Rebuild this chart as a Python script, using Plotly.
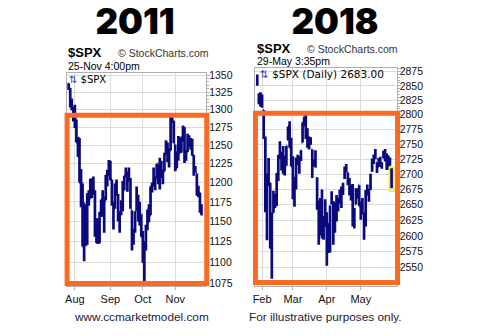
import numpy as np
import pandas as pd
import plotly.graph_objects as go

# ---------------- data ----------------
# 2011: daily S&P 500 bars, 26-Jul .. 25-Nov
days_2011 = pd.bdate_range("2011-07-26", "2011-11-25")
days_2011 = [d for d in days_2011 if d.strftime("%Y-%m-%d") not in ("2011-09-05", "2011-11-24")]

open_2011 = [1337, 1331, 1305, 1296,
             1293, 1286, 1254, 1260, 1200, 1199, 1121, 1171, 1121, 1173, 1179, 1204, 1193, 1190, 1140, 1124,
             1124, 1162, 1177, 1159, 1177, 1209, 1213,
             1219, 1204, 1174, 1166, 1197, 1185, 1153, 1162, 1173, 1190, 1209, 1214, 1204, 1203, 1164, 1128,
             1137, 1164, 1176, 1152, 1159,
             1131, 1097, 1124, 1144, 1166, 1158, 1194, 1196, 1206, 1206, 1224, 1200, 1223, 1208, 1215, 1238,
             1253, 1230, 1243, 1284, 1284,
             1251, 1219, 1238, 1260, 1253, 1262, 1275, 1230, 1241, 1263, 1251, 1257, 1236, 1217, 1212, 1192,
             1187, 1162]
high_2011 = [1338, 1331, 1316, 1304,
             1307, 1286, 1261, 1260, 1218, 1199, 1172, 1171, 1186, 1190, 1205, 1204, 1208, 1190, 1154, 1154,
             1162, 1178, 1190, 1182, 1210, 1217, 1230,
             1229, 1204, 1174, 1199, 1204, 1185, 1163, 1177, 1202, 1209, 1220, 1214, 1220, 1206, 1164, 1141,
             1163, 1195, 1184, 1175, 1159,
             1138, 1125, 1146, 1165, 1172, 1195, 1200, 1220, 1208, 1225, 1224, 1233, 1229, 1217, 1240, 1257,
             1254, 1246, 1293, 1293, 1284,
             1251, 1242, 1263, 1260, 1262, 1277, 1275, 1244, 1266, 1264, 1260, 1259, 1237, 1222, 1212, 1196,
             1187, 1172]
low_2011 = [1328, 1303, 1299, 1283,
            1274, 1254, 1234, 1200, 1168, 1119, 1101, 1120, 1121, 1170, 1179, 1180, 1184, 1131, 1123, 1122,
            1123, 1156, 1156, 1136, 1177, 1195, 1209,
            1203, 1170, 1140, 1166, 1183, 1150, 1136, 1158, 1163, 1190, 1207, 1188, 1201, 1166, 1114, 1121,
            1136, 1164, 1150, 1145, 1131,
            1099, 1075, 1114, 1139, 1149, 1158, 1187, 1196, 1190, 1206, 1198, 1191, 1206, 1198, 1215, 1238,
            1227, 1220, 1243, 1281, 1253,
            1215, 1219, 1229, 1239, 1240, 1255, 1226, 1229, 1241, 1248, 1244, 1236, 1209, 1213, 1183, 1181,
            1161, 1158]
close_2011 = [1332, 1305, 1301, 1292,
              1287, 1254, 1260, 1200, 1199, 1119, 1173, 1121, 1173, 1179, 1204, 1193, 1194, 1141, 1124, 1124,
              1162, 1178, 1159, 1177, 1210, 1213, 1219,
              1204, 1174, 1165, 1199, 1186, 1154, 1162, 1173, 1189, 1209, 1216, 1204, 1202, 1167, 1130, 1136,
              1163, 1175, 1151, 1160, 1131,
              1099, 1124, 1144, 1165, 1155, 1195, 1196, 1207, 1204, 1225, 1201, 1225, 1210, 1215, 1238, 1254,
              1229, 1242, 1285, 1285, 1253,
              1218, 1238, 1261, 1253, 1261, 1276, 1229, 1240, 1264, 1252, 1258, 1237, 1216, 1216, 1193, 1188,
              1162, 1159]

# 2018: daily S&P 500 bars, 29-Jan .. 29-May
days_2018 = pd.bdate_range("2018-01-29", "2018-05-29")
days_2018 = [d for d in days_2018 if d.strftime("%Y-%m-%d") not in ("2018-02-19", "2018-03-30", "2018-05-28")]

open_2018 = [2867, 2832, 2832,
             2816, 2808, 2741, 2614, 2690, 2686, 2601, 2637, 2646, 2652, 2714, 2727, 2723, 2720, 2711, 2715,
             2758, 2781, 2753,
             2715, 2658, 2681, 2731, 2711, 2731, 2753, 2790, 2795, 2775, 2754, 2750, 2741, 2716, 2715, 2691,
             2646, 2619, 2667, 2612, 2625,
             2633, 2597, 2585, 2658, 2645, 2617, 2638, 2643, 2654, 2675, 2670, 2697, 2711, 2702, 2691, 2675,
             2681, 2635, 2651, 2675, 2682,
             2643, 2654, 2628, 2621, 2678, 2670, 2678, 2706, 2722, 2738, 2719, 2713, 2718, 2718, 2735, 2738,
             2714, 2730, 2724, 2705]
high_2018 = [2870, 2837, 2839,
             2835, 2808, 2763, 2701, 2727, 2686, 2638, 2673, 2668, 2702, 2732, 2755, 2737, 2747, 2731, 2747,
             2780, 2789, 2761,
             2730, 2696, 2728, 2732, 2730, 2740, 2787, 2797, 2802, 2777, 2763, 2762, 2741, 2725, 2740, 2695,
             2657, 2661, 2675, 2632, 2659,
             2638, 2621, 2649, 2672, 2656, 2654, 2666, 2661, 2675, 2680, 2686, 2713, 2717, 2703, 2694, 2683,
             2684, 2645, 2677, 2677, 2682,
             2655, 2661, 2638, 2674, 2683, 2676, 2701, 2726, 2733, 2742, 2719, 2727, 2729, 2720, 2739, 2742,
             2734, 2731, 2728, 2710]
low_2018 = [2850, 2818, 2814,
            2812, 2759, 2638, 2593, 2681, 2580, 2533, 2637, 2645, 2648, 2689, 2725, 2706, 2701, 2698, 2714,
            2757, 2744, 2713,
            2659, 2647, 2675, 2715, 2701, 2722, 2753, 2780, 2759, 2744, 2741, 2749, 2694, 2713, 2711, 2642,
            2586, 2601, 2596, 2594, 2614,
            2553, 2573, 2574, 2650, 2586, 2605, 2623, 2639, 2653, 2645, 2666, 2692, 2703, 2682, 2665, 2657,
            2615, 2612, 2651, 2660, 2648,
            2626, 2635, 2594, 2615, 2665, 2655, 2674, 2704, 2717, 2725, 2702, 2712, 2712, 2709, 2726, 2721,
            2707, 2707, 2714, 2677]
close_2018 = [2853, 2822, 2824,
              2822, 2762, 2649, 2695, 2682, 2581, 2620, 2656, 2663, 2699, 2731, 2732, 2716, 2701, 2704, 2747,
              2780, 2744, 2714,
              2678, 2691, 2721, 2728, 2727, 2739, 2787, 2783, 2765, 2749, 2747, 2752, 2713, 2717, 2712, 2644,
              2588, 2659, 2613, 2605, 2641,
              2582, 2614, 2645, 2663, 2604, 2613, 2657, 2642, 2664, 2656, 2678, 2706, 2709, 2693, 2670, 2670,
              2635, 2639, 2667, 2670, 2648,
              2655, 2636, 2630, 2663, 2673, 2672, 2698, 2723, 2728, 2730, 2711, 2722, 2720, 2713, 2733, 2724,
              2733, 2728, 2721, 2683.00]

yticks_2011 = [1075, 1100, 1125, 1150, 1175, 1200, 1225, 1250, 1275, 1300, 1325, 1350]
yticks_2018 = [2550, 2575, 2600, 2625, 2650, 2675, 2700, 2725, 2750, 2775, 2800, 2825, 2850, 2875]

# ---------------- styling ----------------
W, H = 489, 336
NAVY = "#0a0a7c"
ORANGE = "#fb6a22"
GRID = "#dcdcdc"
FRAME = "#b0b0b0"
ARIAL = "Liberation Sans, Arial, sans-serif"
VERD = "DejaVu Sans, Verdana, sans-serif"


def fx(px):
    return px / W


def fy(py):
    return 1 - py / H


def month_ticks(days):
    vals, text = [], []
    for i in range(1, len(days)):
        if days[i].month != days[i - 1].month:
            vals.append(i)
            text.append(days[i].strftime("%b"))
    return vals, text


fig = go.Figure()

panels = [
    dict(days=days_2011, o=open_2011, h=high_2011, l=low_2011, c=close_2011, yt=yticks_2011,
         xa="x", ya="y", xdom=(64.3, 204.3), ytop=70, xr=(-1.15, 88.95),
         yr=(1071.5, 1353.8)),
    dict(days=days_2018, o=open_2018, h=high_2018, l=low_2018, c=close_2018, yt=yticks_2018,
         xa="x2", ya="y2", xdom=(254.0, 396.0), ytop=65, xr=(-1.12, 86.1),
         yr=(2521.6, 2881.9)),
]

layout_axes = {}
for k, p in enumerate(panels):
    idx = list(range(len(p["days"])))
    fig.add_trace(go.Ohlc(
        x=idx, open=p["o"], high=p["h"], low=p["l"], close=p["c"],
        xaxis=p["xa"], yaxis=p["ya"],
        increasing=dict(line=dict(color=NAVY, width=2.7)),
        decreasing=dict(line=dict(color=NAVY, width=2.7)),
        tickwidth=0.5, showlegend=False, hoverinfo="skip",
    ))
    tv, tt = month_ticks(p["days"])
    sfx = "" if k == 0 else "2"
    lo, hi = p["yr"]
    minor_vals = list(range(int(np.ceil(lo / 5) * 5), int(hi) + 1, 5))
    layout_axes["xaxis" + sfx] = dict(
        domain=[fx(p["xdom"][0]), fx(p["xdom"][1])], range=list(p["xr"]),
        anchor="y" + sfx, tickmode="array", tickvals=tv, ticktext=tt,
        showgrid=True, gridcolor=GRID, gridwidth=1, zeroline=False,
        showline=True, linecolor=FRAME, linewidth=1, mirror=True,
        ticks="outside", ticklen=3, tickcolor=FRAME,
        tickfont=dict(family=ARIAL, size=11, color="#111111"),
        rangeslider=dict(visible=False), fixedrange=True,
    )
    layout_axes["yaxis" + sfx] = dict(
        domain=[fy(288), fy(p["ytop"])], type="log",
        range=[np.log10(lo), np.log10(hi)], anchor="x" + sfx, side="right",
        tickmode="array", tickvals=p["yt"], ticktext=[str(v) for v in p["yt"]],
        showgrid=True, gridcolor=GRID, gridwidth=1, zeroline=False,
        showline=True, linecolor=FRAME, linewidth=1, mirror=True,
        ticks="outside", ticklen=3, tickcolor=FRAME, ticklabelstandoff=-3,
        minor=dict(tickmode="array", tickvals=minor_vals, ticks="outside",
                   ticklen=2, tickcolor=FRAME, showgrid=False),
        tickfont=dict(family=ARIAL, size=10.5, color="#111111"),
        fixedrange=True,
    )

# highlight box around the latest 2018 bar
last = len(days_2018) - 1
bx0, bx1 = last - 1.4, last + 1.4
by0, by1 = low_2018[-1] - 5, high_2018[-1] + 2
fig.add_trace(go.Scatter(
    x=[bx0, bx1, bx1, bx0, bx0], y=[by0, by0, by1, by1, by0],
    mode="lines", line=dict(color="#f2ef1a", width=1.6),
    xaxis="x2", yaxis="y2", showlegend=False, hoverinfo="skip",
))

annotations = []


def text(s, x, y, size, color="#000000", family=ARIAL, anchor="left", weight=None, **extra):
    font = dict(family=family, size=size, color=color)
    if weight:
        font["weight"] = weight
    annotations.append(dict(
        text=s, x=fx(x), y=fy(y), xref="paper", yref="paper",
        xanchor=anchor, yanchor="middle", showarrow=False, font=font, **extra,
    ))


# big year headings (tight text box so the heading hugs the top edge)
TITLE_FONT = "Inter, Montserrat, sans-serif"
text("2011", 132.5, 16.5, 35, family=TITLE_FONT, anchor="center", weight=900,
     height=31, width=90, valign="middle")
text("2018", 334, 16.5, 35, family=TITLE_FONT, anchor="center", weight=900,
     height=31, width=90, valign="middle")

# chart headers
text("<b>$SPX</b>", 63, 50, 13)
text("© StockCharts.com", 114, 50.5, 10.5, color="#333333")
text("25-Nov 4:00pm", 63, 63.5, 10.5)
text("<span style='color:#2448b0'>⇅</span> $SPX", 64.5, 77, 10, family=VERD)

text("<b>$SPX</b>", 254, 45, 13)
text("© StockCharts.com", 304, 45.5, 10.5, color="#333333")
text("29-May 3:35pm", 254, 58.5, 10.5)
text(f"<span style='color:#2448b0'>⇅</span> $SPX (Daily) {close_2018[-1]:.2f}", 257, 71.5, 10.5,
     family=VERD)

# footers
text("www.ccmarketmodel.com", 139, 320, 11.8, color="#1a1a3a", anchor="center")
text("For illustrative purposes only.", 246, 320, 11.8, color="#1a1a3a")

# orange frames
shapes = [
    dict(type="rect", xref="paper", yref="paper",
         x0=fx(64.5), x1=fx(205), y0=fy(285.5), y1=fy(113.5),
         line=dict(color=ORANGE, width=5), fillcolor="rgba(0,0,0,0)", layer="above"),
    dict(type="rect", xref="paper", yref="paper",
         x0=fx(254), x1=fx(397), y0=fy(284.5), y1=fy(111.5),
         line=dict(color=ORANGE, width=5), fillcolor="rgba(0,0,0,0)", layer="above"),
]

fig.update_layout(
    width=W, height=H, margin=dict(l=0, r=0, t=0, b=0),
    paper_bgcolor="white", plot_bgcolor="white",
    annotations=annotations, shapes=shapes, showlegend=False,
    **layout_axes,
)

fig.write_html("out.html", config={"displayModeBar": False})
